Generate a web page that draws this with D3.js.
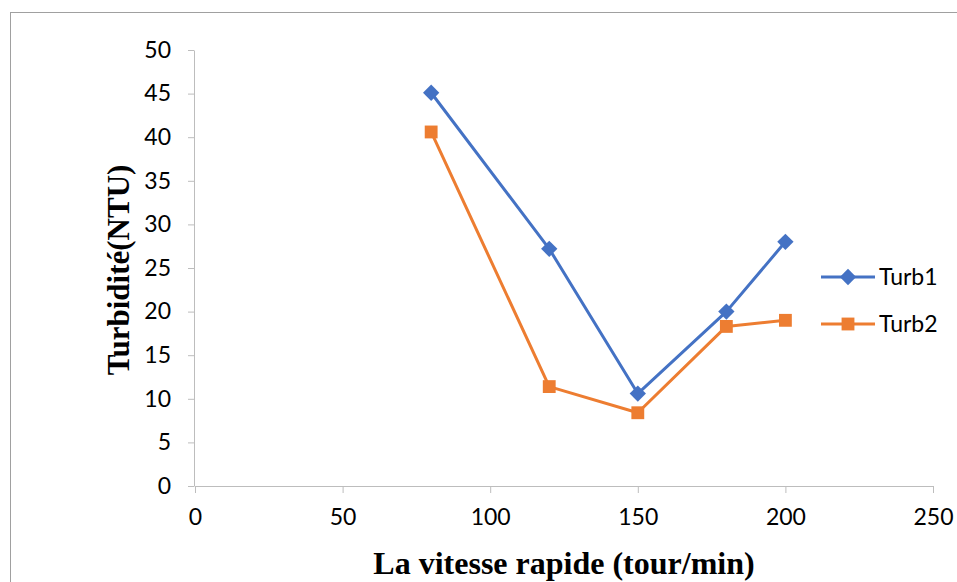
<!DOCTYPE html>
<html>
<head>
<meta charset="utf-8">
<script src="https://cdn.jsdelivr.net/npm/d3@7/dist/d3.min.js"></script>
<style>
  html, body { margin: 0; padding: 0; background: #fff; }
  svg { display: block; }
</style>
</head>
<body>
<svg id="chart" width="957" height="582"></svg>
<script>
// Rapid mixing speed (tour/min) and residual turbidity (NTU)
const speeds = [80, 120, 150, 180, 200];
const turb1 = [45.1, 27.2, 10.6, 20.0, 28.0];
const turb2 = [40.6, 11.4, 8.4, 18.3, 19.0];
const xTicks = [0, 50, 100, 150, 200, 250];
const yTicks = [0, 5, 10, 15, 20, 25, 30, 35, 40, 45, 50];
const seriesNames = ["Turb1", "Turb2"];
const xTitle = "La vitesse rapide (tour/min)";
const yTitle = "Turbidité(NTU)";

const W = 957, H = 582;
const plot = { left: 195, right: 933, top: 50, bottom: 486 };
const colors = ["#4472C4", "#ED7D31"];
const tickFont = "Lato, 'Open Sans', sans-serif";
const titleFont = "'Liberation Serif', 'Times New Roman', serif";

const svg = d3.select("#chart");

// outer chart frame
svg.append("rect")
  .attr("x", 10.5).attr("y", 12.5)
  .attr("width", W + 10).attr("height", H + 10)
  .attr("fill", "#fff").attr("stroke", "#a0a0a0").attr("stroke-width", 1);

const x = d3.scaleLinear().domain([0, 250]).range([plot.left, plot.right]);
const y = d3.scaleLinear().domain([0, 50]).range([plot.bottom, plot.top]);

// y axis
const yAxis = svg.append("g")
  .attr("transform", `translate(${plot.left - 1},0)`)
  .call(d3.axisLeft(y).tickValues(yTicks).tickSize(6).tickPadding(17).tickSizeOuter(0));
yAxis.select(".domain").attr("stroke", "#bdbdbd");
yAxis.selectAll(".tick line").attr("stroke", "#bdbdbd");
yAxis.selectAll(".tick text")
  .attr("font-family", tickFont).attr("font-size", 23).attr("fill", "#000");

// x axis
const xAxis = svg.append("g")
  .attr("transform", `translate(0,${plot.bottom})`)
  .call(d3.axisBottom(x).tickValues(xTicks).tickSize(7).tickPadding(16).tickSizeOuter(0));
xAxis.select(".domain").attr("stroke", "#bdbdbd");
xAxis.selectAll(".tick line").attr("stroke", "#bdbdbd");
xAxis.selectAll(".tick text")
  .attr("font-family", tickFont).attr("font-size", 23).attr("fill", "#000");

// axis titles
svg.append("text")
  .attr("x", 564).attr("y", 574)
  .attr("text-anchor", "middle")
  .attr("font-family", titleFont).attr("font-weight", "bold").attr("font-size", 32)
  .text(xTitle);

svg.append("text")
  .attr("transform", "translate(129,270) rotate(-90)")
  .attr("text-anchor", "middle")
  .attr("font-family", titleFont).attr("font-weight", "bold").attr("font-size", 31)
  .text(yTitle);

const line = d3.line().x(d => x(d[0])).y(d => y(d[1]));
const series = [turb1, turb2].map(vals => speeds.map((s, i) => [s, vals[i]]));

const diamond = d3.symbol().type(d3.symbolDiamond2).size(170);
const square = d3.symbol().type(d3.symbolSquare).size(165);

series.forEach((pts, k) => {
  svg.append("path")
    .datum(pts)
    .attr("d", line)
    .attr("fill", "none")
    .attr("stroke", colors[k])
    .attr("stroke-width", 3)
    .attr("stroke-linejoin", "round");
  svg.selectAll(null)
    .data(pts)
    .enter().append("path")
    .attr("transform", d => `translate(${x(d[0])},${y(d[1])})`)
    .attr("d", k === 0 ? diamond() : square())
    .attr("fill", colors[k]);
});

// legend
const legendY = [277, 324];
seriesNames.forEach((name, k) => {
  const g = svg.append("g").attr("transform", `translate(821,${legendY[k]})`);
  g.append("line")
    .attr("x1", 0).attr("x2", 54).attr("y1", 0).attr("y2", 0)
    .attr("stroke", colors[k]).attr("stroke-width", 3);
  g.append("path")
    .attr("transform", "translate(27,0)")
    .attr("d", k === 0 ? diamond() : square())
    .attr("fill", colors[k]);
  g.append("text")
    .attr("x", 58).attr("y", 0).attr("dy", "0.35em")
    .attr("font-family", tickFont).attr("font-size", 23).attr("fill", "#000")
    .text(name);
});
</script>
</body>
</html>
